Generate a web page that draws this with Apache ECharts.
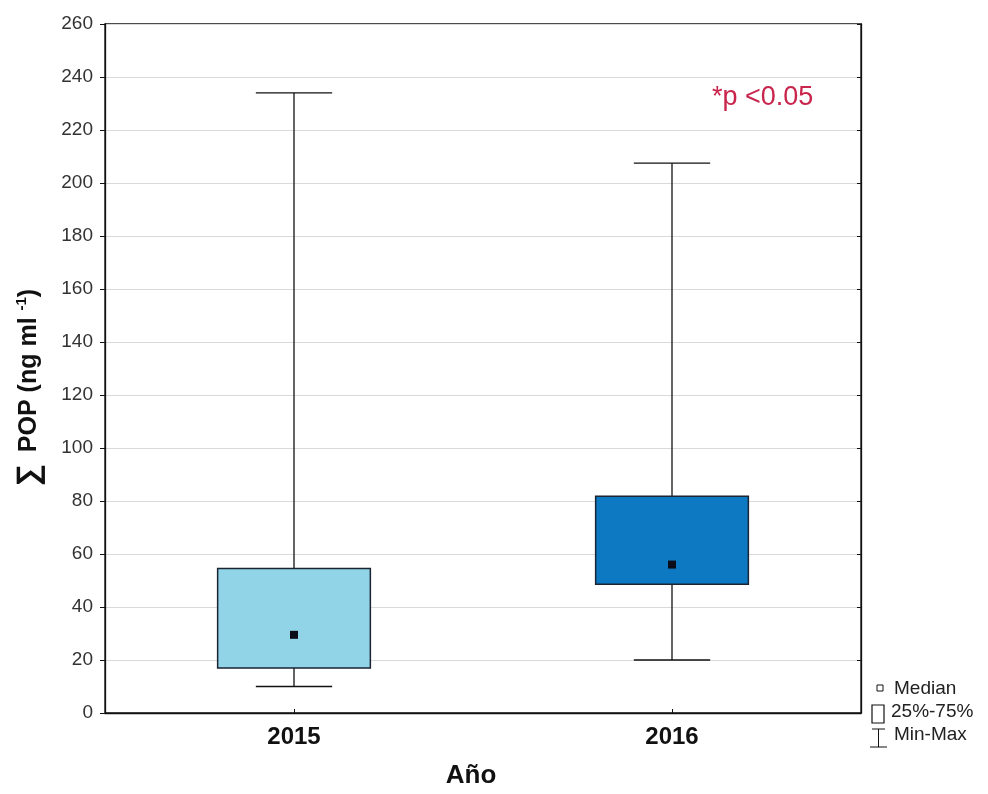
<!DOCTYPE html>
<html>
<head>
<meta charset="utf-8">
<script src="https://cdn.jsdelivr.net/npm/echarts@6/dist/echarts.min.js"></script>
<style>html,body{margin:0;padding:0;background:#fff;overflow:hidden;}#c{width:988px;height:794px;}</style>
</head>
<body>
<div id="c"></div>
<script>
// Data
const categories = ['2015', '2016'];
const mins    = [10, 20];
const q1s     = [17, 48.6];
const medians = [29.5, 56];
const q3s     = [54.5, 81.8];
const maxs    = [234, 207.5];
const boxColors = ['#92D4E7', '#0C79C2'];
const yTicks = { min: 0, max: 260, interval: 20 };
const annotation = '*p <0.05';
const legendLabels = ['Median', '25%-75%', 'Min-Max'];

const seriesData = categories.map((c, i) => [i, mins[i], q1s[i], medians[i], q3s[i], maxs[i]]);

const chart = echarts.init(document.getElementById('c'), null, { renderer: 'canvas', width: 988, height: 794 });
const font = '"Liberation Sans", Arial, sans-serif';

function renderItem(params, api) {
  const idx = api.value(0);
  const band = api.size([1, 0])[0];
  const cx = api.coord([idx, 0])[0];
  const pMin = api.coord([idx, api.value(1)])[1];
  const pQ1 = api.coord([idx, api.value(2)])[1];
  const pMed = api.coord([idx, api.value(3)])[1];
  const pQ3 = api.coord([idx, api.value(4)])[1];
  const pMax = api.coord([idx, api.value(5)])[1];
  const bw = band * 0.404;
  const cw = band * 0.202;
  const line = { stroke: '#111', lineWidth: 1.3 };
  return {
    type: 'group',
    children: [
      { type: 'line', shape: { x1: cx, y1: pMax, x2: cx, y2: pQ3 }, style: line },
      { type: 'line', shape: { x1: cx, y1: pQ1, x2: cx, y2: pMin }, style: line },
      { type: 'line', shape: { x1: cx - cw / 2, y1: pMax, x2: cx + cw / 2, y2: pMax }, style: line },
      { type: 'line', shape: { x1: cx - cw / 2, y1: pMin, x2: cx + cw / 2, y2: pMin }, style: line },
      { type: 'rect', shape: { x: cx - bw / 2, y: pQ3, width: bw, height: pQ1 - pQ3 },
        style: { fill: boxColors[idx], stroke: '#1a2433', lineWidth: 1.5 } },
      { type: 'rect', shape: { x: cx - 4, y: pMed - 4, width: 8, height: 8 },
        style: { fill: '#0d0d1a' } }
    ]
  };
}

const option = {
  backgroundColor: '#ffffff',
  animation: false,
  grid: { left: 105, right: 127, top: 24, bottom: 77, show: true, borderColor: '#111', borderWidth: 1.3 },
  xAxis: {
    type: 'category',
    data: categories,
    boundaryGap: true,
    axisLine: { lineStyle: { color: '#111', width: 1.3 } },
    axisTick: { show: true, alignWithLabel: true, inside: true, length: 4, lineStyle: { color: '#111' } },
    axisLabel: { fontFamily: font, fontSize: 24, fontWeight: 'bold', color: '#111', margin: 12 },
    splitLine: { show: false },
    name: 'Año',
    nameLocation: 'middle',
    nameGap: 50,
    nameTextStyle: { fontFamily: font, fontSize: 26, fontWeight: 'bold', color: '#111', padding: [0, 24, 0, 0] }
  },
  yAxis: [{
    type: 'value',
    min: yTicks.min, max: yTicks.max, interval: yTicks.interval,
    axisLine: { show: true, lineStyle: { color: '#111', width: 1.3 } },
    axisTick: { show: true, inside: false, length: 5, lineStyle: { color: '#111' } },
    axisLabel: { fontFamily: font, fontSize: 19, color: '#333', margin: 12 },
    splitLine: { show: true, lineStyle: { color: '#d9d9d9', width: 1 } },
    name: '{s|∑} POP (ng ml {sup|-1})',
    nameLocation: 'middle',
    nameRotate: 90,
    nameGap: 60,
    nameTextStyle: {
      fontFamily: font, fontSize: 25, fontWeight: 'bold', color: '#111',
      padding: [0, 38, 0, 0],
      rich: {
        s: { fontFamily: font, fontSize: 31, fontWeight: 'bold', color: '#111', padding: [0, 5, 0, 0] },
        sup: { fontFamily: font, fontSize: 15, fontWeight: 'bold', color: '#111', verticalAlign: 'top', padding: [0, 0, 12, 0] }
      }
    }
  }, {
    type: 'value',
    position: 'right',
    min: yTicks.min, max: yTicks.max, interval: yTicks.interval,
    axisLine: { show: true, lineStyle: { color: '#111', width: 1.3 } },
    axisTick: { show: true, inside: true, length: 4, lineStyle: { color: '#111' } },
    axisLabel: { show: false },
    splitLine: { show: false }
  }],
  series: [{
    type: 'custom',
    renderItem: renderItem,
    encode: { x: 0, y: [1, 2, 3, 4, 5] },
    data: seriesData,
    z: 5
  }],
  graphic: [
    { type: 'text', left: 712, top: 84, style: { text: annotation, fontFamily: font, fontSize: 27, fill: '#C8244C' } },
    { type: 'rect', shape: { x: 877, y: 685, width: 6, height: 6 }, style: { fill: '#fff', stroke: '#111', lineWidth: 1 } },
    { type: 'text', left: 894, top: 679, style: { text: legendLabels[0], fontFamily: font, fontSize: 19, fill: '#222' } },
    { type: 'rect', shape: { x: 872, y: 705, width: 12, height: 18 }, style: { fill: '#fff', stroke: '#111', lineWidth: 1.2 } },
    { type: 'text', left: 891, top: 702, style: { text: legendLabels[1], fontFamily: font, fontSize: 19, fill: '#222' } },
    { type: 'line', shape: { x1: 872, y1: 729, x2: 885, y2: 729 }, style: { stroke: '#111', lineWidth: 1 } },
    { type: 'line', shape: { x1: 878.5, y1: 729, x2: 878.5, y2: 747 }, style: { stroke: '#111', lineWidth: 1 } },
    { type: 'line', shape: { x1: 870, y1: 747, x2: 887, y2: 747 }, style: { stroke: '#111', lineWidth: 1 } },
    { type: 'text', left: 894, top: 725, style: { text: legendLabels[2], fontFamily: font, fontSize: 19, fill: '#222' } }
  ]
};
chart.setOption(option);
</script>
</body>
</html>
